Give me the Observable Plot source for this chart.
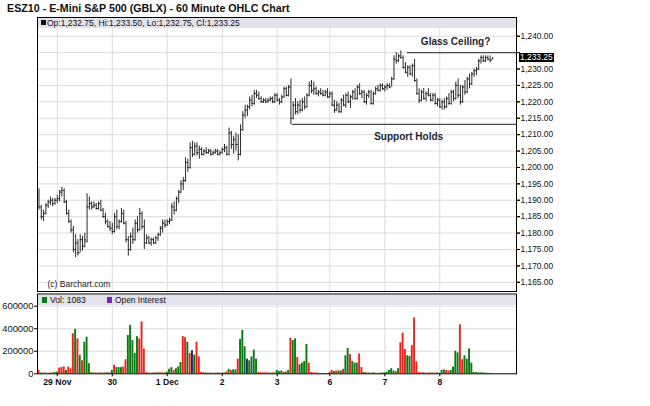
<!DOCTYPE html>
<html><head><meta charset="utf-8">
<script src="https://cdn.jsdelivr.net/npm/d3@7"></script>
<script src="https://cdn.jsdelivr.net/npm/@observablehq/plot@0.6"></script>
<style>
body{margin:0;background:#fff;font-family:"Liberation Sans",Arial,sans-serif;}
#wrap{position:relative;width:650px;height:406px;overflow:hidden;background:#fff;}
#wrap svg{position:absolute;left:0;}
.abs{position:absolute;white-space:nowrap;}
.band{position:absolute;background:#e2e2ec;}
</style></head><body><div id="wrap"></div>
<script>
// ---- data ----
const opens=[1191,1188,1185,1186,1188.5,1189.5,1190,1189,1190,1190.5,1192.5,1193,1189.5,1186,1183.5,1181,1175,1177,1174,1178,1176,1177.5,1188,1189,1188,1188.5,1187.5,1189,1187,1185,1183.5,1182,1181.5,1180.5,1185,1182,1183.5,1186,1183,1178,1175,1179,1178,1183,1181,1186,1182,1177,1178.5,1177,1178,1177,1178.5,1179.5,1181.5,1183,1182.5,1183.5,1184,1188,1187,1190.5,1192.5,1195,1196,1201.5,1200,1206,1204,1206.5,1204.5,1205.5,1204,1205,1204.5,1205,1204,1204.5,1205,1204,1204.5,1205.5,1206,1204,1210.5,1207,1208.5,1207,1204,1211.5,1216,1217.5,1218.5,1220.5,1219.5,1222.5,1222,1221,1220,1220.5,1220,1220.5,1221,1220,1222,1220.5,1220,1221.5,1224,1222,1224.5,1215,1219,1217,1219,1217.5,1220,1218.5,1222,1225,1223.5,1224,1222.5,1223,1222.5,1222,1223,1221.5,1222.5,1219,1217.5,1219,1217,1220.5,1219,1222,1220,1221.5,1223,1221,1224.5,1222.5,1223,1220,1222,1223,1219.5,1222.5,1224,1223.5,1225,1224,1224.5,1225,1224.5,1227,1233,1232.5,1234,1233.5,1230.5,1229,1230.5,1228.5,1231,1226.5,1222.5,1220.5,1223,1221,1222.5,1222,1220.5,1222,1219.5,1220.5,1218.5,1220,1218.5,1221,1219.5,1223,1221,1225,1222,1220,1224.5,1223,1227,1225.5,1228.5,1229.5,1230,1232.5,1233.5,1232.5,1233.5,1233,1232.75];
const highs=[1193.5,1188.5,1187,1189,1190,1191,1190.5,1190.5,1191.5,1193,1194,1193.5,1190,1187,1184,1182,1179.5,1178,1179.5,1179,1180,1192,1191,1189.5,1189.5,1189,1189.5,1190,1187.5,1186,1184,1183.5,1183,1186,1187,1184,1187.5,1187,1183.5,1179,1180,1181.5,1184,1185,1187.5,1186.5,1184,1179.5,1179,1178.5,1178.5,1179,1180,1182,1184,1184,1184,1184.5,1189,1189.5,1191,1193,1196,1197,1203,1202.5,1207.5,1208,1207.5,1207.5,1206.5,1206,1205.5,1206,1205.5,1205.5,1205,1205.5,1205.5,1205,1206,1207,1206.5,1212,1211,1209.5,1210.5,1210,1213,1217,1219,1219,1221.5,1222,1223.5,1223.5,1223,1221.5,1221,1221,1221,1221.5,1221.5,1222.5,1222.5,1221,1222,1224.5,1224.5,1225,1227,1220,1221,1220,1220.5,1221,1221.5,1222.5,1226,1226.5,1226,1224.5,1223.5,1224,1223.5,1223.5,1224,1223,1223,1220.5,1220,1219.5,1221,1222,1222.5,1223,1222,1223.5,1224,1225,1225.5,1223.5,1223.5,1222.5,1223.5,1223.5,1223,1224.5,1225,1225.5,1225.5,1225,1225.5,1225.5,1227.5,1234,1235,1234.5,1235.5,1234,1232,1231,1231,1231.5,1233,1227,1224,1223.5,1224,1223,1224,1222.5,1222.5,1222.5,1221,1221,1220.5,1221,1221.5,1222.5,1223.5,1223.5,1226,1227,1225,1225,1226.5,1227.5,1228.5,1229,1230,1230.5,1233,1234,1234,1234,1234,1234,1233.5];
const lows=[1187,1184,1183.5,1185.5,1187.5,1188.5,1188,1188.5,1189,1189.5,1191,1189,1185.5,1183,1180,1174,1172.5,1173,1174,1174.5,1175.5,1177,1187,1187,1187.5,1187,1187,1186.5,1184.5,1182.5,1181.5,1180.5,1179.5,1180,1181,1181,1183,1182.5,1177,1173,1174.5,1176.5,1177.5,1180,1180.5,1181,1175,1176.5,1176.5,1176,1176.5,1176.5,1177.5,1179,1180,1181.5,1182,1182.5,1183.5,1185.5,1186.5,1189,1192,1193,1195.5,1198.5,1199.5,1203,1203.5,1203.5,1202.5,1203.5,1203.5,1204,1204,1203.5,1203.5,1204,1203.5,1203.5,1204,1204.5,1203.5,1203.5,1205.5,1204,1205,1202,1203.5,1211,1215,1215.5,1217.5,1218.5,1219,1221,1220.5,1219.5,1219.5,1219.5,1219.5,1220,1219.5,1219.5,1220,1219,1219.5,1221,1221.5,1221.5,1213,1214.5,1216,1216,1216.5,1217,1217.5,1218,1221.5,1222.5,1222,1222,1221.5,1222,1221.5,1221.5,1221,1221,1218.5,1216.5,1217,1216.5,1216.5,1218.5,1218,1219.5,1218,1220.5,1220.5,1220.5,1222,1221,1219.5,1219,1221,1219,1219,1222,1223,1223,1223.5,1223,1223.5,1224,1224.5,1226.5,1231.5,1232,1233,1230,1228.5,1227.5,1228,1227.5,1226,1222,1219.5,1220,1220.5,1220,1221.5,1220,1220,1219,1218.5,1218,1217.5,1217.5,1218,1219,1219,1220,1220.5,1221,1219,1219.5,1222,1222.5,1224,1225,1227.5,1228,1229.5,1231.5,1232,1232,1232.5,1232,1232.75];
const closes=[1188,1185,1186,1188.5,1189.5,1190,1189,1190,1190.5,1192.5,1193,1189.5,1186,1183.5,1181,1175,1177,1174,1178,1176,1178,1188,1189,1188,1188.5,1187.5,1189,1187,1185,1183.5,1182,1181.5,1180.5,1185,1182,1183.5,1186,1183,1178,1175,1179,1178,1183,1181,1186,1182,1177,1178.5,1177,1178,1177,1178.5,1179.5,1181.5,1183,1182.5,1183.5,1184,1188,1187,1190.5,1192.5,1195,1196,1201.5,1200,1206,1204,1206.5,1204.5,1205.5,1204,1205,1204.5,1205,1204,1204.5,1205,1204,1204.5,1205.5,1206,1204,1210.5,1207,1208.5,1207,1204,1211.5,1216,1217.5,1218.5,1220.5,1219.5,1222.5,1222,1221,1220,1220.5,1220,1220.5,1221,1220,1222,1220.5,1220,1221.5,1224,1222,1224.5,1215,1219,1217,1219,1217.5,1220,1218.5,1222,1225,1223.5,1224,1222.5,1223,1222.5,1222,1223,1221.5,1222.5,1219,1217.5,1219,1217,1220.5,1219,1222,1220,1221.5,1223,1221,1224.5,1222.5,1223,1220,1222,1223,1219.5,1222.5,1224,1223.5,1225,1224,1224.5,1225,1224.5,1227,1233,1232.5,1234,1233.5,1230.5,1229,1230.5,1228.5,1231,1226.5,1222.5,1220.5,1223,1221,1222.5,1222,1220.5,1222,1219.5,1220.5,1218.5,1220,1218.5,1221,1219.5,1223,1221,1225,1222,1220,1224.5,1223,1227,1225.5,1228.5,1229.5,1230,1232.5,1233.5,1232.5,1233.5,1233,1232.5,1233.25];
const volumes=[30000,8000,6000,7000,5000,6000,9000,12000,15000,50000,55000,62000,30000,60000,45000,355000,395000,310000,165000,115000,280000,325000,90000,10000,8000,7000,6000,8000,6000,7000,9000,8000,30000,75000,55000,55000,55000,60000,125000,340000,430000,295000,180000,330000,310000,460000,220000,10000,8000,6000,7000,9000,8000,10000,7000,9000,15000,40000,55000,30000,45000,60000,100000,330000,320000,280000,180000,205000,165000,280000,150000,12000,9000,8000,6000,7000,5000,6000,8000,7000,6000,8000,15000,40000,30000,35000,35000,130000,305000,385000,240000,130000,115000,150000,210000,130000,12000,10000,8000,9000,7000,6000,8000,7000,30000,20000,25000,15000,15000,30000,315000,295000,310000,145000,80000,95000,110000,260000,95000,10000,8000,8000,6000,3000,3000,3000,3000,10000,30000,20000,25000,25000,25000,40000,160000,225000,170000,110000,95000,95000,175000,55000,12000,8000,7000,6000,8000,6000,5000,6000,7000,8000,15000,30000,45000,25000,20000,45000,275000,360000,215000,160000,155000,250000,495000,105000,10000,8000,9000,7000,6000,8000,7000,6000,8000,5000,30000,35000,30000,25000,30000,60000,200000,185000,435000,125000,160000,130000,220000,95000,12000,10000,8000,9000,7000,6000,5000,4000,1083];
const volumeDirs=("rgrgrgrggr"+"rrgrrrgrgr"+"gggrgrgrgr"+"grgrgggrrg"+"ggggrrrrgr"+"grgrgrgggr"+"gggrrgrngr"+"rrrgrgrgrg"+"rgrgrggrgg"+"gnggggrrrr"+"rgrggggrgg"+"rggrggggrr"+"rrrggrgrrg"+"rggrggrggg"+"rrgrgrgrgr"+"ggggggrgrr"+"rggrrrrrgr"+"rgrrgrggrr"+"ggggrrgggg"+"ggggggggg").split("");
const dayTicks=[8,32,56,80,104,127,151,175];
const dayLabels=["29 Nov","30","1 Dec","2","3","6","7","8"];
const priceTicks=d3.range(1165,1241,5);
const volTicks=[0,200000,400000,600000];
const levels=[{x1:160.9,x2:208.5,price:1235},{x1:110.7,x2:208.5,price:1213.1}];
const notes=[{x:181.9,price:1238.2,text:"Glass Ceiling?"},{x:161.4,price:1209.2,text:"Support Holds"}];
const lastBar={o:1232.75,h:1233.5,l:1232.75,c:1233.25,vol:1083};
const titleText="ESZ10 - E-Mini S&P 500 (GBLX) - 60 Minute OHLC Chart";

// ---- build ----
const N=closes.length;
const bars=d3.range(N).map(i=>({i,o:opens[i],h:highs[i],l:lows[i],c:closes[i],v:volumes[i],d:volumeDirs[i]}));
const xDomain=[-0.655,208.5];
const FONT="Liberation Sans, Arial, sans-serif";
const fmt2=d3.format(",.2f");
const barColor="#2b2b2b";
const volColor={g:"#0c7a16",r:"#f0231c",n:"#1f1f6b"};
// tick labels hidden where the last-price box sits
const priceLabelTicks=priceTicks.filter(t=>Math.abs(t-lastBar.c)>2.5);

const main=Plot.plot({
  width:650,height:292,marginLeft:37,marginRight:134,marginTop:17,marginBottom:1,
  style:{fontFamily:FONT,background:"transparent",overflow:"visible"},
  x:{domain:xDomain,axis:null},
  y:{domain:[1162.2,1245.7],axis:null},
  marks:[
    Plot.gridY(priceTicks,{stroke:"#dcdcdc",strokeOpacity:1}),
    Plot.gridX(dayTicks,{stroke:"#dcdcdc",strokeOpacity:1}),
    Plot.axisY(priceTicks,{anchor:"right",tickSize:3,text:null,label:null,stroke:"#111"}),
    Plot.axisY(priceLabelTicks,{anchor:"right",tickSize:3,tickPadding:1,fontSize:8.4,fill:"#111",label:null,tickFormat:fmt2}),
    Plot.ruleX(bars,{x:"i",y1:"l",y2:"h",stroke:barColor,strokeWidth:1}),
    Plot.ruleY(bars,{y:"o",x1:d=>d.i-0.6,x2:"i",stroke:barColor,strokeWidth:1}),
    Plot.ruleY(bars,{y:"c",x1:"i",x2:d=>d.i+0.6,stroke:barColor,strokeWidth:1}),
    Plot.ruleY(levels,{y:"price",x1:"x1",x2:"x2",stroke:"#4a4a4a",strokeWidth:1.3}),
    Plot.text(notes,{x:"x",y:"price",text:"text",fontWeight:"bold",fontSize:10,fill:"#1e2633"}),
    Plot.text(["(c) Barchart.com"],{frameAnchor:"bottom-left",dx:10,dy:-5,fontSize:8.5,fill:"#222",textAnchor:"start"}),
    Plot.frame({stroke:"#000"})
  ]
});
main.style.top="0px";

const vol=Plot.plot({
  width:650,height:114,marginLeft:37,marginRight:134,marginTop:1.5,marginBottom:32.7,
  style:{fontFamily:FONT,background:"transparent",overflow:"visible"},
  x:{domain:xDomain,axis:null},
  y:{domain:[0,708000],axis:null},
  marks:[
    Plot.gridY(volTicks.filter(v=>v>0),{stroke:"#dcdcdc",strokeOpacity:1}),
    Plot.gridX(dayTicks,{stroke:"#dcdcdc",strokeOpacity:1}),
    Plot.rectY(bars,{x1:d=>d.i-0.42,x2:d=>d.i+0.42,y:"v",fill:d=>volColor[d.d]}),
    Plot.axisY(volTicks,{anchor:"left",tickSize:3,tickPadding:1,fontSize:9.4,fill:"#111",label:null,tickFormat:d=>String(d)}),
    Plot.axisX(dayTicks,{anchor:"bottom",tickSize:3,tickPadding:2,fontSize:8.6,fontWeight:"bold",fill:"#111",label:null,tickFormat:d=>dayLabels[dayTicks.indexOf(d)]}),
    Plot.frame({stroke:"#000"})
  ]
});
vol.style.top="292px";

const wrap=document.getElementById("wrap");
function addDiv(cls,style){const e=document.createElement("div");e.className=cls;Object.assign(e.style,style);wrap.appendChild(e);return e;}

wrap.appendChild(main);
wrap.appendChild(vol);
// title
addDiv("abs",{left:"7px",top:"2px",fontSize:"10.7px",fontWeight:"bold",color:"#111"}).textContent=titleText;
// header band main
addDiv("band",{left:"38px",top:"18px",width:"478px",height:"10px"});
addDiv("abs",{left:"41px",top:"20px",width:"5px",height:"5px",background:"#111"});
addDiv("abs",{left:"47px",top:"17.5px",fontSize:"8.5px",color:"#111",lineHeight:"11px"}).textContent=
  `Op:${fmt2(lastBar.o)}, Hi:${fmt2(lastBar.h)}, Lo:${fmt2(lastBar.l)}, Cl:${fmt2(lastBar.c)}`;
// header band volume
addDiv("band",{left:"38px",top:"295px",width:"478px",height:"10px"});
addDiv("abs",{left:"42px",top:"297px",width:"5px",height:"6px",background:"#0c7a16"});
addDiv("abs",{left:"50px",top:"294.5px",fontSize:"8.6px",color:"#111",lineHeight:"11px"}).textContent=`Vol: ${lastBar.vol}`;
addDiv("abs",{left:"107px",top:"297px",width:"5px",height:"6px",background:"#7a1fd0"});
addDiv("abs",{left:"115px",top:"294.5px",fontSize:"8.4px",color:"#111",lineHeight:"11px"}).textContent="Open Interest";
// last price label, positioned with the plot's own y scale
const yLast=main.scale("y").apply(lastBar.c);
addDiv("abs",{left:"519px",top:(yLast-4.5)+"px",height:"9px",lineHeight:"9px",padding:"0 1px",background:"#000",color:"#fff",fontSize:"8.4px"}).textContent=fmt2(lastBar.c);
</script></body></html>
